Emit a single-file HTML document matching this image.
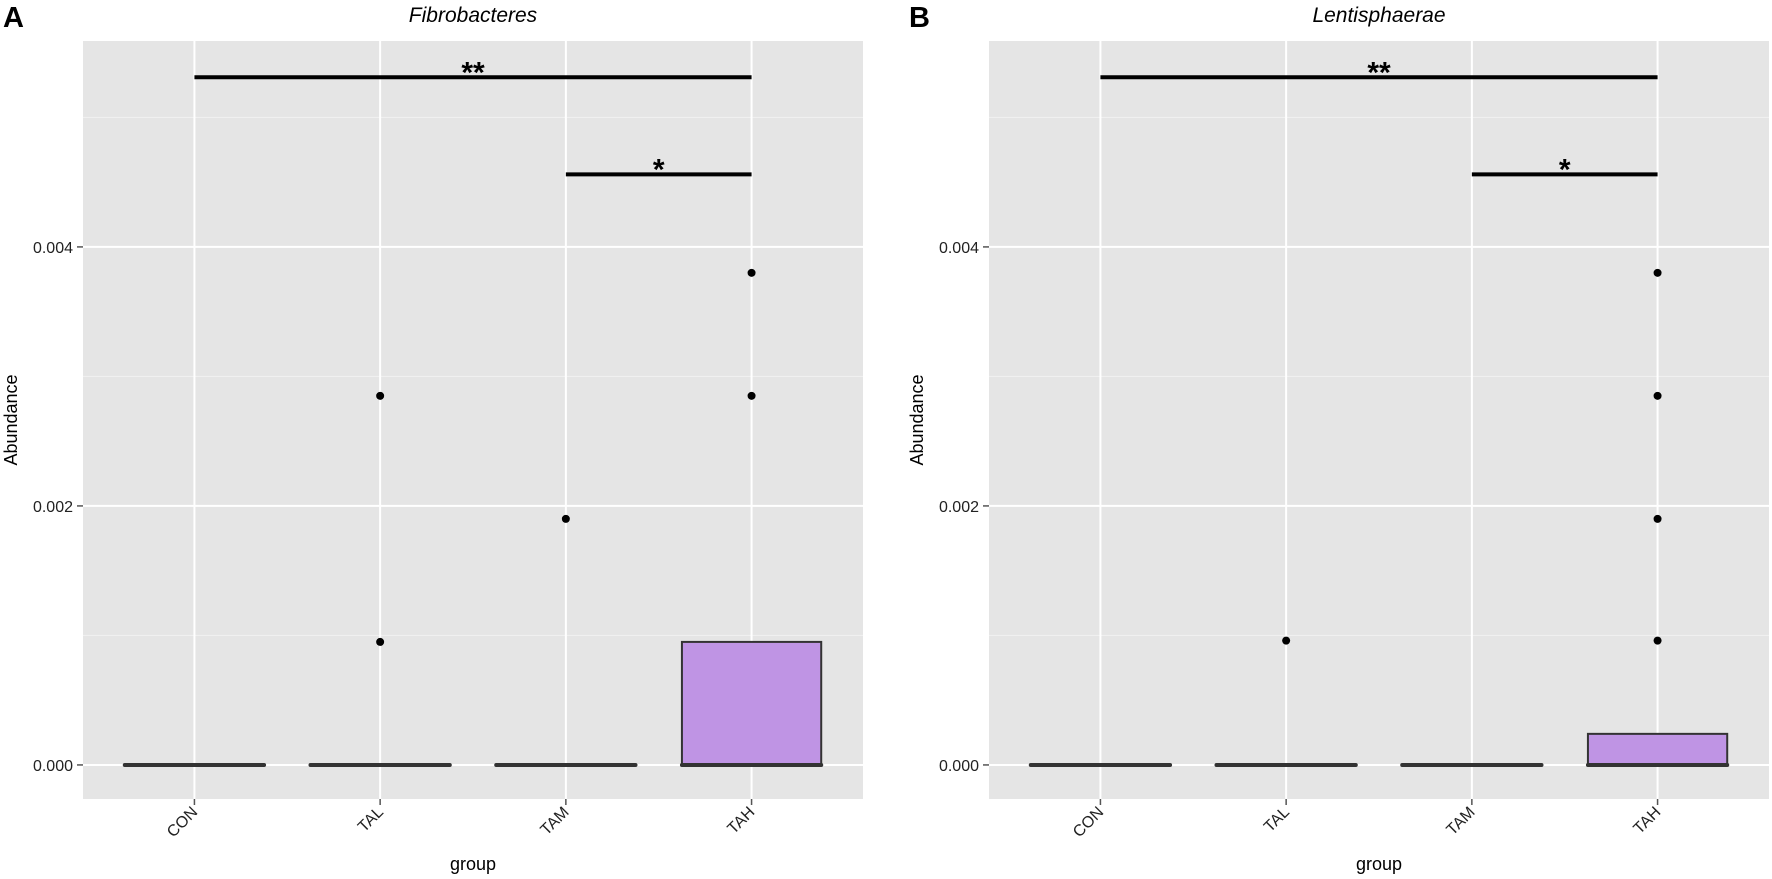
<!DOCTYPE html>
<html><head><meta charset="utf-8"><style>
html,body{margin:0;padding:0;background:#fff;}
svg{display:block;font-family:"Liberation Sans",sans-serif;}
</style></head><body>
<svg id="chart" width="1772" height="879" viewBox="0 0 1772 879"></svg>
<script>
const categories = ["CON","TAL","TAM","TAH"];
const yTicks = [0, 0.002, 0.004];
const yTickLabels = ["0.000","0.002","0.004"];
const minorTicks = [0.001, 0.003, 0.005];
const titlesArr = ["Fibrobacteres","Lentisphaerae"];
const letters = ["A","B"];
const boxA = [[0,0,0],[0,0,0],[0,0,0],[0,0,0.00095]];
const boxB = [[0,0,0],[0,0,0],[0,0,0],[0,0,0.00024]];
const outA = [[],[0.00285,0.00095],[0.0019],[0.0038,0.00285]];
const outB = [[],[0.00096],[],[0.0038,0.00285,0.0019,0.00096]];
const sigFrom = [0, 2];
const sigTo = [3, 3];
const sigY = [0.00531, 0.00456];
const sigLabel = ["**", "*"];

const NS = "http://www.w3.org/2000/svg";
const svg = document.getElementById("chart");
function mk(tag, attrs, parent){
  const e = document.createElementNS(NS, tag);
  for (const k in attrs) e.setAttribute(k, attrs[k]);
  (parent||svg).appendChild(e);
  return e;
}
const panels = [
  {left:83, right:863, boxes:boxA, outs:outA},
  {left:989, right:1769, boxes:boxB, outs:outB}
];
const plotTop = 41, plotBottom = 799;
const yMin = -0.000263, yMax = 0.005590;
function yS(v){ return plotBottom - (v - yMin)/(yMax - yMin)*(plotBottom - plotTop); }

panels.forEach((p, pi) => {
  const g = mk("g", {});
  
  
  const w = p.right - p.left;
  const unit = w / (categories.length + 0.2);
  const xS = i => p.left + (i + 0.6) * unit;

  const bg = mk("rect", {x:p.left, y:plotTop, width:w, height:plotBottom-plotTop, fill:"#E5E5E5"}, g);
  
  

  minorTicks.forEach(v => {
    const l = mk("line", {x1:p.left, x2:p.right, y1:yS(v), y2:yS(v), stroke:"#F2F2F2", "stroke-width":1}, g);
    
    
  });
  yTicks.forEach((v, i) => {
    const l = mk("line", {x1:p.left, x2:p.right, y1:yS(v), y2:yS(v), stroke:"#FFFFFF", "stroke-width":2}, g);
    
    
    const t = mk("line", {x1:p.left-6, x2:p.left, y1:yS(v), y2:yS(v), stroke:"#555", "stroke-width":1.5}, g);
    
    
    const tx = mk("text", {x:p.left-10, y:yS(v)+6, "text-anchor":"end", "font-size":16, fill:"#222"}, g);
    tx.textContent = yTickLabels[i];
    
    
  });
  categories.forEach((c, i) => {
    const x = xS(i);
    const l = mk("line", {x1:x, x2:x, y1:plotTop, y2:plotBottom, stroke:"#FFFFFF", "stroke-width":2}, g);
    
    
    const t = mk("line", {x1:x, x2:x, y1:plotBottom, y2:plotBottom+6, stroke:"#555", "stroke-width":1.5}, g);
    
    
    const tx = mk("text", {x:x+4, y:plotBottom+14, "text-anchor":"end", "font-size":16, fill:"#222", transform:`rotate(-45 ${x+4} ${plotBottom+14})`}, g);
    tx.textContent = c;
    
    
  });

  const bw = unit * 0.75;
  p.boxes.forEach((b, i) => {
    const x = xS(i);
    if (b[2] > b[0]) {
      const r = mk("rect", {x:x-bw/2, y:yS(b[2]), width:bw, height:yS(b[0])-yS(b[2]), fill:"#BF94E4", stroke:"#333", "stroke-width":2}, g);
      
      
    }
    const m = mk("line", {x1:x-bw/2, x2:x+bw/2, y1:yS(b[1]), y2:yS(b[1]), stroke:"#333", "stroke-width":4, "stroke-linecap":"round"}, g);
    
    
  });
  p.outs.forEach((arr, i) => {
    arr.forEach(v => {
      const c = mk("circle", {cx:xS(i), cy:yS(v), r:4, fill:"#000"}, g);
      
      
    });
  });
  sigFrom.forEach((f, k) => {
    const x1 = xS(f), x2 = xS(sigTo[k]), y = yS(sigY[k]);
    const l = mk("line", {x1:x1, x2:x2, y1:y, y2:y, stroke:"#000", "stroke-width":4}, g);
    
    
    const t = mk("text", {x:(x1+x2)/2, y:y+5, "text-anchor":"middle", "font-size":30, "font-weight":"bold", fill:"#000"}, g);
    t.textContent = sigLabel[k];
    
    
  });

  const ti = mk("text", {x:(p.left+p.right)/2, y:22, "text-anchor":"middle", "font-size":21, "font-style":"italic", fill:"#000"}, g);
  ti.textContent = titlesArr[pi];
  
  
  const le = mk("text", {x:p.left-80, y:27, "font-size":29, "font-weight":"bold", fill:"#000"}, g);
  le.textContent = letters[pi];
  
  
  const xt = mk("text", {x:(p.left+p.right)/2, y:870, "text-anchor":"middle", "font-size":18, fill:"#000"}, g);
  xt.textContent = "group";
  
  
  const yx = p.left - 66, yy = (plotTop+plotBottom)/2;
  const yt = mk("text", {x:yx, y:yy, "text-anchor":"middle", "font-size":18, fill:"#000", transform:`rotate(-90 ${yx} ${yy})`}, g);
  yt.textContent = "Abundance";
  
  
});
</script>
</body></html>
